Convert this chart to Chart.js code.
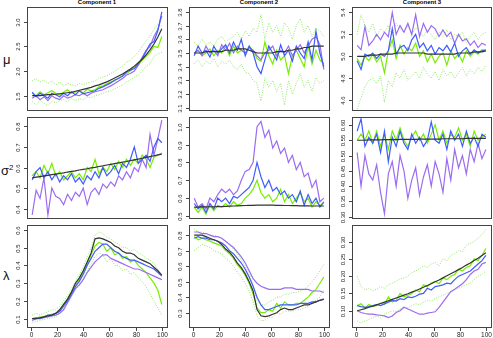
<!DOCTYPE html>
<html lang="en">
<head>
<meta charset="UTF-8">
<title>Components</title>
<script src="https://cdn.jsdelivr.net/npm/chart.js@4.4.0/dist/chart.umd.min.js"></script>
<style>
body{margin:0;background:#fff;}
#wrap{position:relative;width:493px;height:338px;overflow:hidden;}
#wrap canvas{position:absolute;left:0;top:0;}
.ttl{position:absolute;top:-1px;width:140px;text-align:center;font:bold 6px "Liberation Sans",Arial,sans-serif;color:#000;}
.yl{position:absolute;font:13px "Liberation Sans",Arial,sans-serif;color:#111;line-height:13px;}
</style>
</head>
<body>
<div id="wrap">
  <div class="ttl" style="left:27px">Component 1</div>
  <div class="ttl" style="left:189px">Component 2</div>
  <div class="ttl" style="left:352px">Component 3</div>
  <div class="yl" style="left:3px;top:53px">μ</div>
  <div class="yl" style="left:1px;top:164px">σ<span style="font-size:8px;position:relative;top:-5px">2</span></div>
  <div class="yl" style="left:3px;top:269px">λ</div>
</div>
<script>
// x positions (every 3rd iteration)
var xs = [1,4,7,10,13,16,19,22,25,28,31,34,37,40,43,46,49,52,55,58,61,64,67,70,73,76,79,82,85,88,91,94,97,100];
var xTicks = ["0","20","40","60","80","100"];

// ---- mu, component 1
var mu1Black  = [1.50,1.50,1.50,1.51,1.52,1.52,1.53,1.54,1.55,1.56,1.57,1.59,1.61,1.63,1.65,1.67,1.70,1.72,1.75,1.78,1.82,1.86,1.90,1.94,1.99,2.04,2.10,2.17,2.24,2.33,2.43,2.55,2.69,2.86];
var mu1Green  = [1.55,1.50,1.58,1.52,1.56,1.60,1.55,1.52,1.57,1.62,1.55,1.58,1.60,1.56,1.63,1.60,1.62,1.68,1.70,1.74,1.78,1.80,1.86,1.90,1.95,2.00,2.08,2.12,2.22,2.30,2.38,2.50,2.48,2.70];
var mu1Blue   = [1.57,1.48,1.55,1.50,1.45,1.55,1.52,1.48,1.55,1.50,1.58,1.52,1.60,1.54,1.56,1.58,1.60,1.65,1.68,1.72,1.76,1.82,1.85,1.90,1.98,2.02,2.05,2.15,2.25,2.40,2.55,2.60,2.82,3.20];
var mu1Purple = [1.45,1.50,1.42,1.48,1.40,1.50,1.45,1.42,1.50,1.45,1.48,1.52,1.50,1.55,1.50,1.55,1.58,1.60,1.62,1.66,1.70,1.75,1.80,1.85,1.92,1.95,2.00,2.12,2.28,2.42,2.50,2.70,2.85,3.12];
var mu1Upper  = [1.80,1.85,1.78,1.82,1.75,1.80,1.72,1.78,1.70,1.75,1.72,1.70,1.75,1.72,1.76,1.78,1.80,1.85,1.88,1.90,1.95,2.00,2.05,2.10,2.18,2.22,2.30,2.38,2.50,2.62,2.70,2.85,2.95,2.92];
var mu1Lower  = [1.38,1.32,1.40,1.35,1.30,1.38,1.36,1.40,1.42,1.38,1.45,1.40,1.44,1.42,1.48,1.46,1.50,1.52,1.55,1.58,1.60,1.64,1.68,1.72,1.78,1.82,1.88,1.92,2.00,2.10,2.15,2.30,2.35,2.38];
var mu1Ticks  = ["1.5","2.0","2.5","3.0"];

// ---- mu, component 2
var mu2Black  = [3.50,3.50,3.50,3.51,3.51,3.51,3.51,3.51,3.52,3.52,3.52,3.53,3.53,3.53,3.52,3.51,3.50,3.50,3.50,3.50,3.50,3.51,3.51,3.51,3.52,3.52,3.53,3.53,3.54,3.54,3.55,3.55,3.55,3.55];
var mu2Green  = [3.50,3.52,3.48,3.50,3.53,3.48,3.52,3.50,3.55,3.48,3.55,3.50,3.52,3.50,3.55,3.52,3.46,3.44,3.58,3.48,3.42,3.52,3.45,3.48,3.35,3.48,3.52,3.46,3.40,3.55,3.42,3.52,3.45,3.42];
var mu2Blue   = [3.48,3.55,3.50,3.52,3.47,3.55,3.50,3.53,3.56,3.50,3.58,3.52,3.60,3.48,3.55,3.50,3.40,3.35,3.45,3.55,3.50,3.45,3.56,3.48,3.52,3.44,3.55,3.50,3.46,3.58,3.45,3.66,3.50,3.40];
var mu2Purple = [3.50,3.52,3.48,3.55,3.50,3.52,3.48,3.56,3.52,3.57,3.50,3.55,3.52,3.50,3.54,3.52,3.48,3.45,3.50,3.52,3.55,3.48,3.52,3.50,3.55,3.48,3.52,3.56,3.50,3.55,3.60,3.62,3.56,3.38];
var mu2Upper  = [3.58,3.55,3.60,3.56,3.58,3.55,3.60,3.62,3.58,3.60,3.62,3.65,3.60,3.66,3.62,3.68,3.65,3.78,3.60,3.72,3.65,3.70,3.62,3.72,3.68,3.60,3.70,3.75,3.65,3.70,3.62,3.68,3.66,3.62];
var mu2Lower  = [3.42,3.45,3.40,3.44,3.42,3.46,3.40,3.44,3.42,3.45,3.40,3.38,3.42,3.36,3.35,3.30,3.28,3.15,3.32,3.25,3.30,3.22,3.28,3.12,3.30,3.20,3.28,3.35,3.25,3.30,3.22,3.32,3.28,3.30];
var mu2Ticks  = ["3.1","3.2","3.3","3.4","3.5","3.6","3.7","3.8"];

// ---- mu, component 3
var mu3Black  = [5.00,5.00,5.00,5.01,5.01,5.01,5.02,5.02,5.02,5.02,5.03,5.03,5.03,5.03,5.03,5.03,5.03,5.03,5.02,5.02,5.02,5.02,5.02,5.02,5.02,5.02,5.03,5.03,5.03,5.03,5.04,5.04,5.04,5.05];
var mu3Green  = [4.98,4.92,5.00,4.96,5.02,4.95,5.00,4.85,5.05,5.15,4.98,5.10,5.02,5.08,5.05,5.12,5.00,5.05,4.95,5.02,4.94,5.00,5.03,4.92,5.05,4.98,5.02,4.95,5.05,5.00,5.04,5.02,5.06,5.05];
var mu3Blue   = [4.96,4.88,5.02,5.00,5.03,4.98,5.02,5.00,5.05,5.25,5.02,5.08,5.10,5.05,5.15,5.20,5.08,5.12,5.05,5.10,5.02,5.08,5.05,5.10,5.04,5.12,5.00,5.05,5.08,5.02,5.06,5.03,5.05,5.06];
var mu3Purple = [5.10,5.06,5.27,5.10,5.14,5.20,5.15,5.22,5.18,5.40,5.20,5.28,5.22,5.30,5.20,5.38,5.18,5.30,5.22,5.28,5.25,5.18,5.24,5.18,5.22,5.12,5.20,5.14,5.16,5.10,5.14,5.08,5.12,5.10];
var mu3Upper  = [5.20,5.38,5.28,5.22,5.30,5.18,5.25,5.22,5.28,5.20,5.30,5.25,5.22,5.28,5.20,5.26,5.22,5.18,5.24,5.20,5.15,5.22,5.18,5.24,5.15,5.20,5.18,5.22,5.12,5.18,5.22,5.15,5.20,5.22];
var mu3Lower  = [4.52,4.62,4.72,4.78,4.80,4.75,4.82,4.58,4.78,4.72,4.85,4.80,4.88,4.78,4.82,4.86,4.80,4.90,4.84,4.80,4.86,4.78,4.88,4.82,4.86,4.80,4.85,4.90,4.82,4.88,4.84,4.90,4.86,4.92];
var mu3Ticks  = ["4.6","4.8","5.0","5.2","5.4"];

// ---- sigma^2, component 1
var sig1Black  = [0.550,0.553,0.556,0.559,0.562,0.565,0.568,0.571,0.574,0.578,0.581,0.584,0.588,0.591,0.594,0.598,0.601,0.605,0.608,0.612,0.615,0.619,0.622,0.626,0.629,0.633,0.637,0.641,0.645,0.649,0.653,0.657,0.661,0.665];
var sig1Green  = [0.56,0.58,0.55,0.61,0.57,0.62,0.56,0.58,0.54,0.56,0.58,0.55,0.57,0.54,0.60,0.58,0.64,0.57,0.60,0.58,0.62,0.59,0.63,0.60,0.64,0.61,0.64,0.62,0.66,0.64,0.60,0.65,0.66,0.67];
var sig1Blue   = [0.54,0.58,0.60,0.55,0.58,0.54,0.57,0.53,0.56,0.54,0.57,0.53,0.55,0.52,0.56,0.54,0.58,0.55,0.60,0.56,0.58,0.61,0.57,0.62,0.60,0.64,0.70,0.62,0.64,0.66,0.63,0.70,0.74,0.72];
var sig1Purple = [0.37,0.49,0.45,0.55,0.37,0.50,0.46,0.45,0.42,0.47,0.44,0.48,0.46,0.50,0.42,0.48,0.50,0.47,0.52,0.50,0.53,0.51,0.56,0.54,0.58,0.55,0.60,0.58,0.64,0.60,0.76,0.66,0.74,0.83];
var sig1Ticks  = ["0.4","0.5","0.6","0.7","0.8"];

// ---- sigma^2, component 2
var sig2Black  = [0.550,0.550,0.551,0.551,0.552,0.552,0.553,0.553,0.554,0.555,0.556,0.557,0.558,0.559,0.560,0.560,0.561,0.561,0.561,0.561,0.561,0.560,0.560,0.559,0.559,0.558,0.558,0.557,0.557,0.557,0.556,0.556,0.556,0.556];
var sig2Green  = [0.55,0.52,0.55,0.51,0.56,0.53,0.56,0.55,0.57,0.55,0.58,0.56,0.57,0.60,0.62,0.65,0.70,0.63,0.60,0.62,0.58,0.60,0.65,0.58,0.62,0.57,0.60,0.63,0.58,0.60,0.55,0.58,0.56,0.57];
var sig2Blue   = [0.57,0.54,0.56,0.52,0.57,0.54,0.60,0.58,0.60,0.57,0.61,0.60,0.62,0.64,0.66,0.70,0.80,0.72,0.66,0.70,0.64,0.66,0.62,0.64,0.60,0.62,0.58,0.64,0.56,0.62,0.57,0.60,0.55,0.58];
var sig2Purple = [0.60,0.55,0.57,0.54,0.60,0.58,0.62,0.65,0.63,0.65,0.62,0.64,0.70,0.75,0.76,0.80,1.00,1.03,0.94,0.98,0.88,0.92,0.85,0.88,0.80,0.84,0.76,0.80,0.72,0.74,0.66,0.70,0.58,0.60];
var sig2Ticks  = ["0.5","0.6","0.7","0.8","0.9","1.0"];

// ---- sigma^2, component 3
var sig3Black  = [0.550,0.550,0.550,0.551,0.551,0.551,0.551,0.552,0.552,0.552,0.552,0.553,0.553,0.553,0.553,0.553,0.554,0.554,0.554,0.554,0.554,0.554,0.555,0.555,0.555,0.555,0.555,0.555,0.556,0.556,0.556,0.556,0.556,0.556];
var sig3Green  = [0.55,0.57,0.55,0.58,0.54,0.58,0.53,0.57,0.52,0.58,0.55,0.59,0.55,0.53,0.56,0.58,0.55,0.57,0.54,0.57,0.60,0.55,0.58,0.54,0.57,0.56,0.59,0.55,0.57,0.53,0.58,0.55,0.56,0.57];
var sig3Blue   = [0.58,0.62,0.53,0.56,0.54,0.57,0.51,0.58,0.48,0.56,0.53,0.58,0.54,0.52,0.57,0.54,0.56,0.53,0.55,0.61,0.55,0.54,0.57,0.52,0.58,0.55,0.57,0.53,0.58,0.54,0.56,0.53,0.57,0.56];
var sig3Purple = [0.51,0.40,0.50,0.44,0.42,0.47,0.38,0.31,0.44,0.48,0.40,0.50,0.45,0.36,0.42,0.46,0.37,0.43,0.47,0.40,0.48,0.44,0.38,0.49,0.42,0.52,0.46,0.50,0.44,0.52,0.48,0.54,0.49,0.52];
var sig3Ticks  = ["0.30","0.35","0.40","0.45","0.50","0.55","0.60"];

// ---- lambda, component 1
var lam1Black  = [0.10,0.10,0.105,0.11,0.115,0.12,0.13,0.15,0.18,0.21,0.25,0.30,0.33,0.37,0.42,0.47,0.55,0.555,0.55,0.54,0.53,0.51,0.50,0.48,0.47,0.47,0.46,0.44,0.43,0.42,0.41,0.39,0.37,0.345];
var lam1Green  = [0.10,0.10,0.11,0.11,0.12,0.125,0.13,0.15,0.18,0.21,0.25,0.29,0.32,0.36,0.41,0.46,0.51,0.53,0.52,0.48,0.50,0.46,0.47,0.44,0.45,0.42,0.43,0.40,0.38,0.36,0.33,0.30,0.26,0.18];
var lam1Blue   = [0.10,0.105,0.10,0.11,0.12,0.12,0.13,0.14,0.17,0.20,0.24,0.28,0.31,0.35,0.40,0.44,0.48,0.50,0.52,0.52,0.50,0.48,0.47,0.45,0.44,0.43,0.43,0.42,0.41,0.40,0.39,0.38,0.36,0.34];
var lam1Purple = [0.09,0.10,0.10,0.105,0.11,0.115,0.12,0.13,0.15,0.19,0.23,0.27,0.29,0.32,0.36,0.39,0.42,0.44,0.46,0.46,0.44,0.43,0.42,0.41,0.40,0.39,0.38,0.38,0.37,0.36,0.35,0.34,0.33,0.32];
var lam1Upper  = [0.12,0.13,0.12,0.13,0.14,0.15,0.15,0.17,0.20,0.23,0.27,0.31,0.35,0.39,0.45,0.50,0.57,0.59,0.58,0.56,0.55,0.53,0.52,0.50,0.50,0.48,0.49,0.47,0.46,0.44,0.43,0.41,0.38,0.34];
var lam1Lower  = [0.08,0.085,0.09,0.095,0.10,0.105,0.11,0.13,0.16,0.19,0.23,0.26,0.29,0.33,0.37,0.41,0.45,0.47,0.46,0.42,0.44,0.40,0.40,0.37,0.38,0.35,0.36,0.33,0.31,0.28,0.24,0.20,0.16,0.12];
var lam1Ticks  = ["0.1","0.2","0.3","0.4","0.5","0.6"];

// ---- lambda, component 2
var lam2Black  = [0.80,0.80,0.80,0.79,0.78,0.77,0.76,0.74,0.71,0.69,0.66,0.62,0.59,0.55,0.50,0.44,0.32,0.28,0.275,0.28,0.29,0.30,0.32,0.33,0.32,0.32,0.33,0.34,0.35,0.35,0.36,0.37,0.38,0.385];
var lam2Green  = [0.79,0.77,0.78,0.77,0.76,0.75,0.74,0.73,0.70,0.68,0.65,0.61,0.58,0.54,0.49,0.42,0.33,0.30,0.30,0.32,0.31,0.36,0.33,0.37,0.35,0.35,0.36,0.36,0.38,0.40,0.43,0.45,0.49,0.53];
var lam2Blue   = [0.78,0.79,0.78,0.78,0.77,0.77,0.76,0.75,0.73,0.70,0.68,0.65,0.62,0.58,0.53,0.47,0.40,0.35,0.32,0.32,0.33,0.34,0.35,0.35,0.35,0.35,0.35,0.36,0.36,0.36,0.37,0.37,0.38,0.39];
var lam2Purple = [0.82,0.82,0.81,0.81,0.80,0.79,0.79,0.78,0.76,0.74,0.72,0.69,0.66,0.62,0.57,0.52,0.49,0.47,0.46,0.45,0.45,0.45,0.45,0.46,0.46,0.46,0.45,0.45,0.45,0.45,0.44,0.44,0.44,0.43];
var lam2Upper  = [0.84,0.82,0.82,0.81,0.80,0.80,0.79,0.78,0.76,0.74,0.71,0.68,0.64,0.60,0.55,0.48,0.38,0.35,0.35,0.37,0.38,0.40,0.40,0.42,0.42,0.43,0.43,0.44,0.45,0.47,0.50,0.53,0.57,0.61];
var lam2Lower  = [0.70,0.72,0.74,0.73,0.72,0.70,0.69,0.68,0.65,0.63,0.60,0.56,0.53,0.49,0.44,0.37,0.28,0.25,0.25,0.27,0.27,0.30,0.29,0.31,0.31,0.31,0.32,0.32,0.33,0.34,0.36,0.38,0.40,0.45];
var lam2Ticks  = ["0.3","0.4","0.5","0.6","0.7","0.8"];

// ---- lambda, component 3
var lam3Black  = [0.100,0.103,0.106,0.110,0.113,0.117,0.121,0.125,0.129,0.133,0.137,0.141,0.145,0.149,0.154,0.158,0.163,0.168,0.173,0.178,0.184,0.189,0.195,0.201,0.207,0.213,0.219,0.225,0.232,0.238,0.245,0.252,0.260,0.268];
var lam3Green  = [0.115,0.120,0.108,0.118,0.112,0.115,0.122,0.118,0.140,0.125,0.130,0.150,0.140,0.145,0.150,0.160,0.155,0.175,0.170,0.180,0.185,0.178,0.195,0.190,0.200,0.205,0.220,0.215,0.225,0.230,0.250,0.245,0.260,0.280];
var lam3Blue   = [0.115,0.112,0.110,0.112,0.115,0.118,0.115,0.120,0.125,0.130,0.128,0.135,0.132,0.140,0.138,0.142,0.148,0.150,0.165,0.160,0.170,0.172,0.175,0.180,0.178,0.190,0.200,0.205,0.210,0.215,0.225,0.235,0.245,0.260];
var lam3Purple = [0.100,0.095,0.092,0.090,0.090,0.088,0.087,0.085,0.080,0.085,0.095,0.100,0.110,0.105,0.100,0.095,0.090,0.090,0.093,0.095,0.097,0.110,0.125,0.140,0.155,0.162,0.170,0.178,0.190,0.205,0.215,0.220,0.235,0.240];
var lam3Upper  = [0.200,0.170,0.160,0.165,0.158,0.162,0.170,0.165,0.175,0.180,0.185,0.192,0.195,0.200,0.210,0.215,0.222,0.230,0.225,0.235,0.240,0.230,0.250,0.245,0.260,0.265,0.275,0.270,0.290,0.295,0.300,0.310,0.320,0.335];
var lam3Lower  = [0.070,0.065,0.070,0.075,0.080,0.085,0.080,0.090,0.095,0.100,0.098,0.105,0.110,0.108,0.115,0.120,0.118,0.125,0.130,0.128,0.135,0.140,0.145,0.150,0.155,0.160,0.165,0.170,0.175,0.180,0.190,0.200,0.205,0.215];
var lam3Ticks  = ["0.10","0.15","0.20","0.25","0.30"];

// layout of the 3x3 grid (plot boxes in page pixels)
var colL = [27,189,352], colR = [167,329,491];
var rowT = [7,117,225],  rowB = [110,218,327];
var W = 493, H = 338;

var C_BLACK = "#333333", C_GREEN = "#76ee00", C_BAND = "#8fe860", C_BLUE = "#3f5cff", C_PURPLE = "#9b6cf0";

var wrap = document.getElementById("wrap");

function pts(v){
    return v.map(function(y,i){ return {x:xs[i], y:y}; });
}

function line(v, col, dash, w){
    return {data:pts(v), borderColor:col, borderWidth:w||1.2, borderDash:dash||[], pointRadius:0, fill:false, tension:0};
}

function panel(row, col, ymin, ymax, ticks, s, xaxis){
    var L = colL[col], R = colR[col], T = rowT[row], B = rowB[row];
    var cv = document.createElement("canvas");
    cv.width = W; cv.height = H;
    wrap.appendChild(cv);

    // first dataset is drawn on top
    var ds = [line(s.black, C_BLACK, null, 1.2), line(s.blue, C_BLUE), line(s.purple, C_PURPLE), line(s.green, C_GREEN)];
    if(s.upper){
        ds.push(line(s.lower, C_BAND, [1,1.5], 1));
        ds.push(line(s.upper, C_BAND, [1,1.5], 1));
    }

    var frame = {
        id:"frame",
        afterDraw:function(chart){
            var ctx = chart.ctx, ys = chart.scales.y, xsc = chart.scales.x;
            ctx.save();
            ctx.strokeStyle = "#444"; ctx.lineWidth = 1;
            ctx.strokeRect(L+0.5, T+0.5, R-L, B-T);
            ctx.fillStyle = "#222";
            ctx.font = "6px 'Liberation Sans', Arial, sans-serif";
            ctx.textAlign = "center"; ctx.textBaseline = "middle";
            ticks.forEach(function(t){
                var py = Math.round(ys.getPixelForValue(parseFloat(t))) + 0.5;
                ctx.beginPath(); ctx.moveTo(L-3, py); ctx.lineTo(L, py); ctx.stroke();
                ctx.save(); ctx.translate(L-8.5, py); ctx.rotate(-Math.PI/2);
                ctx.fillText(t, 0, 0); ctx.restore();
            });
            if(xaxis){
                ctx.font = "6.5px 'Liberation Sans', Arial, sans-serif";
                xTicks.forEach(function(t){
                    var px = Math.round(xsc.getPixelForValue(parseFloat(t))) + 0.5;
                    ctx.beginPath(); ctx.moveTo(px, B+1); ctx.lineTo(px, B+4); ctx.stroke();
                    ctx.fillText(t, px, B+8);
                });
            }
            ctx.restore();
        }
    };

    new Chart(cv, {
        type:"line",
        data:{datasets:ds},
        options:{
            responsive:false, animation:false, events:[],
            layout:{padding:{left:L, top:T, right:W-R, bottom:H-B}},
            plugins:{legend:{display:false}, tooltip:{enabled:false}},
            scales:{
                x:{type:"linear", display:false, min:-2.96, max:103.96},
                y:{type:"linear", display:false, min:ymin, max:ymax}
            }
        },
        plugins:[frame]
    });
}

panel(0,0,1.21,3.30,mu1Ticks,{black:mu1Black,green:mu1Green,blue:mu1Blue,purple:mu1Purple,upper:mu1Upper,lower:mu1Lower},false);
panel(0,1,3.085,3.835,mu2Ticks,{black:mu2Black,green:mu2Green,blue:mu2Blue,purple:mu2Purple,upper:mu2Upper,lower:mu2Lower},false);
panel(0,2,4.51,5.45,mu3Ticks,{black:mu3Black,green:mu3Green,blue:mu3Blue,purple:mu3Purple,upper:mu3Upper,lower:mu3Lower},false);
panel(1,0,0.355,0.845,sig1Ticks,{black:sig1Black,green:sig1Green,blue:sig1Blue,purple:sig1Purple},false);
panel(1,1,0.489,1.054,sig2Ticks,{black:sig2Black,green:sig2Green,blue:sig2Blue,purple:sig2Purple},false);
panel(1,2,0.296,0.626,sig3Ticks,{black:sig3Black,green:sig3Green,blue:sig3Blue,purple:sig3Purple},false);
panel(2,0,0.053,0.628,lam1Ticks,{black:lam1Black,green:lam1Green,blue:lam1Blue,purple:lam1Purple,upper:lam1Upper,lower:lam1Lower},true);
panel(2,1,0.208,0.865,lam2Ticks,{black:lam2Black,green:lam2Green,blue:lam2Blue,purple:lam2Purple,upper:lam2Upper,lower:lam2Lower},true);
panel(2,2,0.053,0.348,lam3Ticks,{black:lam3Black,green:lam3Green,blue:lam3Blue,purple:lam3Purple,upper:lam3Upper,lower:lam3Lower},true);
</script>
</body>
</html>
